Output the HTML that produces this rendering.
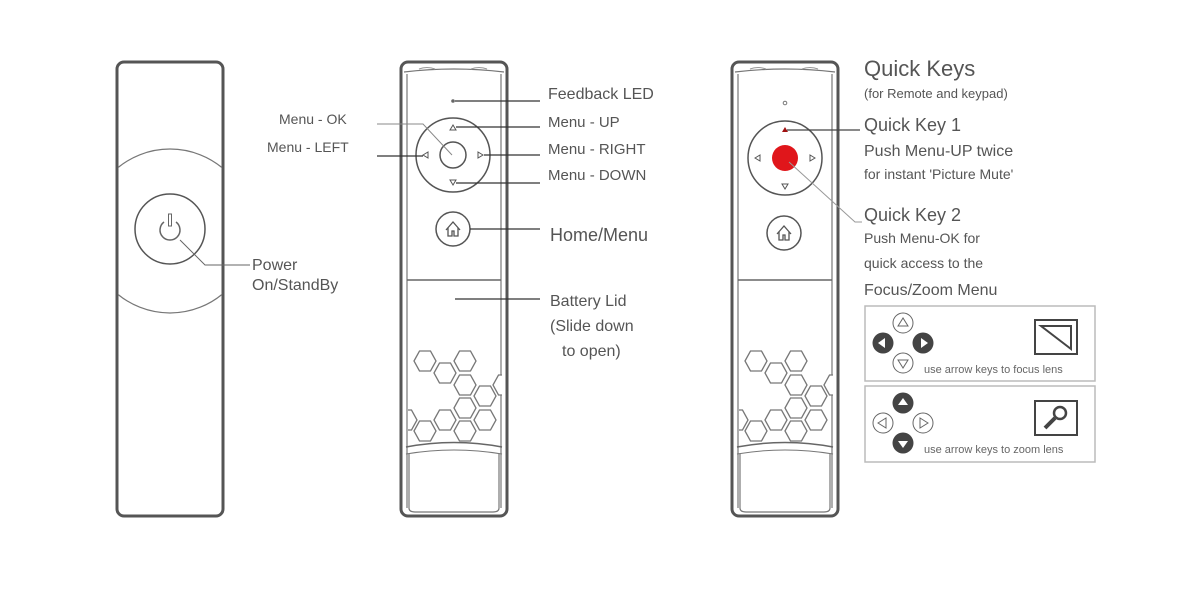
<!DOCTYPE html>
<html><head><meta charset="utf-8"><style>
html,body{margin:0;padding:0;background:#fff;}
svg{display:block;}
text{font-family:"Liberation Sans",sans-serif;fill:#555;}
</style></head><body>
<svg width="1200" height="600" viewBox="0 0 1200 600" xmlns="http://www.w3.org/2000/svg">
<defs>
<polygon id="hx" points="-11,0 -5.5,-10 5.5,-10 11,0 5.5,10 -5.5,10" fill="#fff" stroke="#777" stroke-width="1.3"/>
<clipPath id="cl"><rect x="7" y="0" width="94" height="460"/></clipPath>
<clipPath id="c1"><rect x="118" y="63" width="104" height="452"/></clipPath>
<g id="body">
  <rect x="0" y="2" width="106" height="454" rx="7" fill="#fff" stroke="#555" stroke-width="3"/>
  <line x1="6" y1="14" x2="6" y2="448" stroke="#777" stroke-width="1.2"/>
  <line x1="100" y1="14" x2="100" y2="448" stroke="#777" stroke-width="1.2"/>
  <path d="M3,12 Q53,6 103,12" fill="none" stroke="#777" stroke-width="1.2"/>
  <path d="M18,9 q8,-3 16,0 M70,9 q8,-3 16,0" fill="none" stroke="#999" stroke-width="1"/>
  <line x1="6" y1="220" x2="100" y2="220" stroke="#666" stroke-width="1.5"/>
  <g clip-path="url(#cl)">
   <use href="#hx" x="24" y="301"/><use href="#hx" x="44" y="313"/><use href="#hx" x="64" y="301"/>
   <use href="#hx" x="64" y="325"/><use href="#hx" x="84" y="336"/><use href="#hx" x="103" y="325"/>
   <use href="#hx" x="64" y="348"/><use href="#hx" x="44" y="360"/><use href="#hx" x="24" y="371"/>
   <use href="#hx" x="5" y="360"/><use href="#hx" x="84" y="360"/><use href="#hx" x="64" y="371"/>
  </g>
  <path d="M5,387 Q53,378 101,387" fill="none" stroke="#666" stroke-width="1.5"/>
  <path d="M5,394 Q53,386 101,394" fill="none" stroke="#777" stroke-width="1"/>
  <path d="M8,394 L8,448 Q8,452 14,452 L92,452 Q98,452 98,448 L98,394" fill="none" stroke="#777" stroke-width="1.2"/>
</g>
<g id="home">
  <circle r="17" fill="#fff" stroke="#555" stroke-width="1.5"/>
  <path d="M-7,1 L0,-7 L7,1 M-5,-1 L-5,7 L-1,7 L-1,2 L1,2 L1,7 L5,7 L5,-1" fill="none" stroke="#555" stroke-width="1.3"/>
</g>
</defs>

<!-- Remote 1 -->
<rect x="117" y="62" width="106" height="454" rx="7" fill="#fff" stroke="#555" stroke-width="3"/>
<circle cx="170" cy="231" r="82" fill="none" stroke="#777" stroke-width="1.2" clip-path="url(#c1)"/>
<circle cx="170" cy="229" r="35" fill="#fff" stroke="#555" stroke-width="1.5"/>
<path d="M164,222 A10,10 0 1 0 176,222" fill="none" stroke="#666" stroke-width="1.5"/>
<rect x="168.5" y="214" width="3" height="12" fill="none" stroke="#666" stroke-width="1"/>
<polyline points="180,240 205,265 250,265" fill="none" stroke="#666" stroke-width="1"/>
<text x="252" y="270" font-size="16">Power</text>
<text x="252" y="290" font-size="16">On/StandBy</text>

<!-- Remote 2 -->
<use href="#body" x="401" y="60"/>
<circle cx="453" cy="155" r="37" fill="#fff" stroke="#555" stroke-width="1.5"/>
<circle cx="453" cy="155" r="13" fill="#fff" stroke="#555" stroke-width="1.5"/>
<path d="M453,125 l-3,5 h6z M453,185 l-3,-5 h6z M423,155 l5,-3 v6z M483,155 l-5,-3 v6z" fill="#fff" stroke="#555" stroke-width="1"/>
<circle cx="453" cy="101" r="1.8" fill="#666"/>
<use href="#home" x="453" y="229"/>
<g stroke="#333" stroke-width="1.3">
<line x1="455" y1="101" x2="540" y2="101"/>
<line x1="456" y1="127" x2="540" y2="127"/>
<line x1="484" y1="155" x2="540" y2="155"/>
<line x1="456" y1="183" x2="540" y2="183"/>
<line x1="470" y1="229" x2="540" y2="229"/>
<line x1="455" y1="299" x2="540" y2="299"/>
<line x1="377" y1="156" x2="423" y2="156"/>
</g>
<polyline points="377,124 423,124 452,155" fill="none" stroke="#888" stroke-width="1"/>
<text x="548" y="99" font-size="16">Feedback LED</text>
<text x="548" y="127" font-size="15">Menu - UP</text>
<text x="548" y="154" font-size="15">Menu - RIGHT</text>
<text x="548" y="180" font-size="15">Menu - DOWN</text>
<text x="550" y="241" font-size="18">Home/Menu</text>
<text x="550" y="306" font-size="16">Battery Lid</text>
<text x="550" y="331" font-size="16">(Slide down</text>
<text x="562" y="356" font-size="16">to open)</text>
<text x="279" y="124" font-size="14">Menu - OK</text>
<text x="267" y="152" font-size="14">Menu - LEFT</text>

<!-- Remote 3 -->
<use href="#body" x="732" y="60"/>
<circle cx="785" cy="158" r="37" fill="#fff" stroke="#555" stroke-width="1.5"/>
<circle cx="785" cy="158" r="13" fill="#e0161b"/>
<path d="M785,127 l-3,5 h6z" fill="#a01010"/>
<path d="M785,189 l-3,-5 h6z M755,158 l5,-3 v6z M815,158 l-5,-3 v6z" fill="#fff" stroke="#555" stroke-width="1"/>
<circle cx="785" cy="103" r="1.8" fill="none" stroke="#777"/>
<use href="#home" x="784" y="233"/>
<line x1="787" y1="130" x2="860" y2="130" stroke="#444" stroke-width="1.3"/>
<polyline points="789,162 855,222 862,222" fill="none" stroke="#999" stroke-width="1"/>
<text x="864" y="76" font-size="22">Quick Keys</text>
<text x="864" y="98" font-size="13">(for Remote and keypad)</text>
<text x="864" y="131" font-size="18">Quick Key 1</text>
<text x="864" y="156" font-size="16">Push Menu-UP twice</text>
<text x="864" y="179" font-size="14">for instant 'Picture Mute'</text>
<text x="864" y="221" font-size="18">Quick Key 2</text>
<text x="864" y="243" font-size="14">Push Menu-OK for</text>
<text x="864" y="268" font-size="14">quick access to the</text>
<text x="864" y="295" font-size="16">Focus/Zoom Menu</text>

<!-- panels -->
<rect x="865" y="306" width="230" height="75" fill="#fff" stroke="#bbb" stroke-width="1.5"/>
<rect x="865" y="386" width="230" height="76" fill="#fff" stroke="#bbb" stroke-width="1.5"/>
<g stroke="#666" stroke-width="1" fill="#fff">
<circle cx="903" cy="323" r="10"/><circle cx="903" cy="363" r="10"/>
<path d="M903,318 l-5,8 h10z M903,368 l-5,-8 h10z"/>
<circle cx="883" cy="423" r="10"/><circle cx="923" cy="423" r="10"/>
<path d="M878,423 l8,-5 v10z M928,423 l-8,-5 v10z"/>
</g>
<g fill="#444">
<circle cx="883" cy="343" r="10.5"/><circle cx="923" cy="343" r="10.5"/>
<circle cx="903" cy="403" r="10.5"/><circle cx="903" cy="443" r="10.5"/>
</g>
<path d="M878,343 l7,-5 v10z M928,343 l-7,-5 v10z M903,398 l-5,7 h10z M903,448 l-5,-7 h10z" fill="#fff"/>
<text x="924" y="373" font-size="11" style="fill:#666">use arrow keys to focus lens</text>
<text x="924" y="453" font-size="11" style="fill:#666">use arrow keys to zoom lens</text>
<rect x="1035" y="320" width="42" height="34" fill="none" stroke="#444" stroke-width="2"/>
<path d="M1041,326 H1071 V349 Z" fill="none" stroke="#444" stroke-width="2"/>
<rect x="1035" y="401" width="42" height="34" fill="none" stroke="#444" stroke-width="2"/>
<circle cx="1060" cy="413" r="6" fill="none" stroke="#444" stroke-width="2.5"/>
<line x1="1055" y1="418" x2="1045" y2="428" stroke="#444" stroke-width="4"/>
</svg>
</body></html>
